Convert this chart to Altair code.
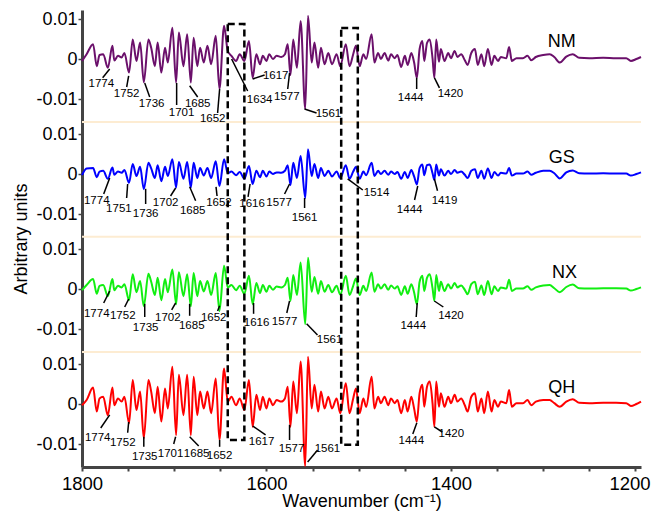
import altair as alt
import pandas as pd

# ---------------- data (values in units of 1e-4) ----------------
wavenumber = [
    1800, 1795, 1788, 1784, 1781, 1777, 1772, 1767, 1765, 1761,
    1757, 1754, 1749, 1745, 1741, 1737, 1733, 1728, 1725, 1721,
    1718, 1714, 1710, 1707, 1702, 1698, 1695, 1690, 1686, 1682,
    1679, 1675, 1672, 1668, 1664, 1660, 1655, 1651, 1646, 1642,
    1638, 1633, 1629, 1624, 1619, 1615, 1611, 1607, 1604, 1600,
    1597, 1593, 1589, 1584, 1580, 1577, 1574, 1571, 1567, 1563,
    1558, 1555, 1551, 1548, 1544, 1541, 1537, 1533, 1529, 1524,
    1520, 1514, 1510, 1506, 1503, 1499, 1495, 1492, 1486, 1483,
    1479, 1476, 1472, 1468, 1465, 1461, 1458, 1454, 1450, 1447,
    1443, 1440, 1437, 1434, 1431, 1429, 1426, 1423, 1420, 1418,
    1416, 1413, 1411, 1407, 1403, 1400, 1396, 1393, 1389, 1385,
    1382, 1378, 1374, 1371, 1367, 1364, 1360, 1356, 1353, 1349,
    1346, 1340, 1337, 1334, 1329, 1322, 1317, 1313, 1308, 1300,
    1293, 1288, 1282, 1275, 1268, 1261, 1250, 1235, 1221, 1210,
    1205, 1199, 1194,
]
nm = [
    -5, 12, 37, -18, 10, 12, -22, 33, -4, 8,
    4, 15, -34, 49, -5, 41, -58, 49, 28, -18,
    41, -34, 28, -9, 78, -59, 66, -18, 62, -59,
    53, -18, 28, -9, 33, -13, 58, -75, 83, 20,
    8, -5, 12, -5, 45, -47, 12, -13, 8, -5,
    12, 0, 8, 5, 12, 37, -40, 49, -22, 95,
    -125, 108, -9, 41, -22, 28, -13, 15, -13, 12,
    -18, 37, -18, 12, 33, -18, 12, 0, 62, -9,
    15, 0, 15, -4, 12, 2, 10, -20, 8, -15,
    15, -8, -47, 25, 45, -5, 40, 49, 2, -47,
    49, -7, 25, -5, 15, 2, 20, 5, 12, -3,
    -15, 15, 25, -15, 12, -18, 25, -15, 8, -5,
    5, 2, 30, -5, 2, 2, 8, -3, 5, 10,
    12, 5, -9, 6, 12, 3, 2, 3, 2, 2,
    -5, 0, 5,
]
gs = [
    -3, 14, 15, -8, 6, 8, -12, 16, -2, 6,
    3, 10, -22, 25, -5, 18, -38, 28, 14, -10,
    22, -18, 18, -5, 37, -34, 30, -12, 30, -34,
    28, -10, 15, -4, 15, -10, 32, -30, 37, 2,
    6, -3, 5, -12, 20, -25, 8, -8, 8, -6,
    6, 0, 4, 3, 8, 22, -28, 28, -10, 45,
    -60, 62, -5, 25, -10, 15, -5, 8, -6, 6,
    -10, 22, -12, 6, 18, -12, 6, -3, 28, -5,
    8, 0, 8, -2, 6, 0, 5, -12, 5, -10,
    10, -6, -26, 15, 24, -3, 22, 24, 2, -15,
    24, -4, 12, -4, 8, 0, 10, 3, 6, -2,
    -10, 8, 12, -10, 8, -12, 14, -10, 5, -4,
    3, 1, 15, -4, 1, 1, 6, -2, 3, 8,
    8, 2, -11, 4, 9, 2, 1, 2, 1, 1,
    -4, 0, 4,
]
nx = [
    -3, 10, 25, -12, 8, 10, -18, 25, -3, 8,
    4, 12, -28, 37, -8, 20, -43, 38, 18, -15,
    28, -28, 25, -8, 49, -38, 42, -18, 37, -43,
    40, -18, 20, -6, 20, -15, 40, -55, 58, 4,
    10, -3, 8, -12, 33, -38, 15, -10, 10, -7,
    8, -2, 6, 4, 10, 28, -30, 35, -15, 66,
    -88, 78, -7, 30, -12, 20, -7, 10, -8, 8,
    -14, 33, -15, 8, 26, -15, 8, -5, 41, -7,
    12, 1, 12, -2, 9, 1, 7, -15, 7, -12,
    12, -8, -38, 18, 33, -5, 28, 37, 2, -30,
    35, -5, 18, -5, 12, 1, 15, 4, 9, -2,
    -13, 12, 18, -13, 9, -15, 20, -13, 7, -5,
    4, 1, 23, -5, 1, 1, 7, -2, 4, 9,
    10, 2, -8, 5, 11, 2, 1, 2, 2, 1,
    -4, 0, 4,
]
qh = [
    -3, 10, 41, -19, 14, 18, -28, 41, -3, 14,
    6, 18, -48, 60, -15, 31, -86, 60, 31, -23,
    43, -44, 39, -11, 93, -78, 73, -28, 73, -78,
    68, -28, 31, -11, 31, -23, 64, -90, 89, 6,
    18, -3, 14, -15, 60, -57, 23, -15, 18, -11,
    14, -3, 10, 6, 14, 43, -57, 56, -23, 106,
    -155, 118, -11, 48, -19, 31, -11, 18, -11, 14,
    -23, 52, -23, 14, 39, -23, 14, -7, 68, -11,
    18, 2, 18, -3, 14, 2, 10, -23, 10, -19,
    18, -11, -44, 27, 48, -7, 43, 56, 2, -57,
    56, -7, 27, -7, 18, 2, 23, 6, 14, -3,
    -19, 18, 27, -19, 14, -23, 31, -19, 10, -7,
    6, 2, 35, -7, 2, 2, 10, -3, 6, 10,
    10, 2, -7, 6, 12, 3, 2, 3, 3, 2,
    -5, 0, 6,
]
series = ["NM", "GS", "NX", "QH"]
colors = ["#6b106b", "#0000ff", "#11ee11", "#ff0000"]
stack_index = [3, 2, 1, 0]
panel_step = 0.02875

# peak labels: (text, label wn, label value, leader from wn, value, leader to wn, value)
nm_peaks = [
    ("1774", 1779, -62, 1770, -25, 1777.6, -47),
    ("1752", 1751.6, -87, 1749.4, -42, 1751.6, -70),
    ("1736", 1724.5, -112, 1732, -60, 1726.6, -95),
    ("1701", 1692, -135, 1697.4, -60, 1697.4, -115),
    ("1685", 1674.6, -112, 1683.3, -67, 1674.6, -95),
    ("1652", 1658.3, -150, 1650.8, -75, 1653, -135),
    ("1634", 1607.4, -102, 1637.8, 0, 1620.4, -80),
    ("1617", 1590, -42, 1615, -50, 1602, -40),
    ("1577", 1578, -95, 1575, -35, 1577, -75),
    ("1561", 1532.8, -137, 1558.7, -125, 1545.7, -135),
    ("1444", 1443.7, -97, 1437.2, -47, 1437.2, -75),
    ("1420", 1400.6, -87, 1417.9, -47, 1412.5, -72),
]
gs_peaks = [
    ("1774", 1784, -67, 1770, -10, 1776.5, -50),
    ("1751", 1760, -87, 1750.5, -25, 1751.6, -60),
    ("1736", 1731, -100, 1731, -37, 1731, -75),
    ("1702", 1709.3, -72, 1698.5, -35, 1704, -55),
    ("1685", 1680, -92, 1683.3, -32, 1676.8, -67),
    ("1652", 1651.5, -72, 1654.7, -32, 1653.6, -55),
    ("1616", 1615.6, -75, 1617.8, -25, 1620, -57),
    ("1577", 1586.4, -72, 1575, -25, 1580.4, -50),
    ("1561", 1558.7, -110, 1558.7, -60, 1558.7, -85),
    ("1514", 1480.6, -47, 1512, -12, 1495.6, -40),
    ("1444", 1444.8, -90, 1436, -30, 1439.5, -65),
    ("1419", 1407, -67, 1418, -12, 1414.6, -42),
]
nx_peaks = [
    ("1774", 1784, -62, 1770, -5, 1776.5, -35),
    ("1752", 1755.8, -67, 1749.4, -25, 1753.7, -45),
    ("1735", 1731, -97, 1732, -37, 1732, -70),
    ("1702", 1707, -72, 1698.5, -35, 1702.8, -52),
    ("1685", 1681, -92, 1683.3, -37, 1683.3, -67),
    ("1652", 1657.2, -72, 1650.8, -42, 1653, -55),
    ("1616", 1610.7, -85, 1614, -35, 1614, -62),
    ("1577", 1580.4, -82, 1575, -30, 1578, -60),
    ("1561", 1531.6, -127, 1556.5, -87, 1544.7, -115),
    ("1444", 1440.9, -92, 1436.6, -35, 1437.7, -70),
    ("1420", 1400, -67, 1418, -30, 1408.3, -45),
]
qh_peaks = [
    ("1774", 1783, -85, 1770, -27, 1779.7, -60),
    ("1752", 1755.8, -97, 1749.4, -45, 1750.5, -72),
    ("1735", 1732, -132, 1733, -82, 1733, -107),
    ("1701", 1704, -125, 1698.5, -82, 1700.6, -100),
    ("1685", 1675.7, -125, 1683.3, -82, 1673.5, -105),
    ("1652", 1650.8, -130, 1650.8, -90, 1650.8, -107),
    ("1617", 1605.3, -95, 1615, -55, 1601, -77),
    ("1577", 1572.8, -112, 1575, -52, 1575, -90),
    ("1561", 1533.9, -112, 1555.4, -145, 1544.6, -115),
    ("1444", 1443, -92, 1437, -47, 1441.4, -75),
    ("1420", 1399.6, -75, 1418, -57, 1409.4, -70),
]
name_wn = [1280, 1280, 1277, 1280]
name_val = [42, 40, 40, 40]

box_left = [1642, 1519]
box_right = [1624, 1501]
box_top = [0.0950, 0.0940]
box_bottom = [-0.0090, -0.0102]

separator_y = [0.0705, 0.0418, 0.0130]

y_ticks = [k * panel_step + t for k in range(4) for t in (-0.01, 0.0, 0.01)]
x_ticks = list(range(1200, 1801, 50))

# ---------------- tables ----------------
rows = []
for name, vals, k in zip(series, [nm, gs, nx, qh], stack_index):
    assert len(vals) == len(wavenumber)
    for w, v in zip(wavenumber, vals):
        rows.append({"series": name, "wn": w, "y": v * 1e-4 + k * panel_step})
spec = pd.DataFrame(rows)

lab_rows, lead_rows = [], []
for peaks, k in zip([nm_peaks, gs_peaks, nx_peaks, qh_peaks], stack_index):
    off = k * panel_step
    for t, lx, ly, x1, y1, x2, y2 in peaks:
        lab_rows.append({"text": t, "wn": lx, "y": ly * 1e-4 + off})
        lead_rows.append({"wn": x1, "y": y1 * 1e-4 + off, "wn2": x2, "y2": y2 * 1e-4 + off})
labels = pd.DataFrame(lab_rows)
leaders = pd.DataFrame(lead_rows)
names = pd.DataFrame({
    "text": series, "wn": name_wn,
    "y": [v * 1e-4 + k * panel_step for v, k in zip(name_val, stack_index)],
})
boxes = pd.DataFrame({"wn": box_left, "wn2": box_right, "y": box_top, "y2": box_bottom})
seps = pd.DataFrame({"y": separator_y})

FONT = "Liberation Sans"
W, H = 559, 457
xscale = alt.Scale(domain=[1194, 1800], reverse=True, nice=False, zero=False)
yscale = alt.Scale(domain=[-0.01575, 0.0985], nice=False, zero=False)

ylab = ("abs(datum.value - round(datum.value / 0.02875) * 0.02875) < 0.002 ? '0' : "
        "((datum.value - round(datum.value / 0.02875) * 0.02875) > 0 ? '0.01' : '-0.01')")

x_axis = alt.Axis(
    values=x_ticks, labelExpr="datum.value % 200 === 0 ? format(datum.value, 'd') : ''",
    title="Wavenumber (cm\u207b\u00b9)", labelFontSize=18.5, titleFontSize=18,
    labelFont=FONT, titleFont=FONT, titleFontWeight="normal", labelColor="#000",
    titleColor="#000", domainColor="#444", domainWidth=3, tickColor="#444",
    tickWidth=2, tickSize=4, labelPadding=3, grid=False, labelFlush=False,
    titleY=39, titleBaseline="alphabetic",
    labelOffset={"condition": {"test": "datum.value === 1200", "value": -6}, "value": 0})
y_axis = alt.Axis(
    values=y_ticks, labelExpr=ylab, title="Arbitrary units", labelFontSize=18,
    titleFontSize=18, labelFont=FONT, titleFont=FONT, titleFontWeight="normal",
    labelColor="#000", titleColor="#000", domainColor="#444", domainWidth=3,
    tickColor="#444", tickWidth=1.5, tickSize=4, labelPadding=1, titlePadding=5,
    grid=False, labelFlush=False)

X = alt.X("wn:Q", scale=xscale, axis=x_axis)
Y = alt.Y("y:Q", scale=yscale, axis=y_axis)

sep_layer = alt.Chart(seps).mark_rule(color="#fdecd2", strokeWidth=2).encode(
    y=Y, x=alt.value(0), x2=alt.value(W))

lines = alt.Chart(spec).mark_line(strokeWidth=2, interpolate="monotone").encode(
    x=X, y=Y,
    color=alt.Color("series:N", scale=alt.Scale(domain=series, range=colors), legend=None),
    detail="series:N", order="wn:Q")

lead_layer = alt.Chart(leaders).mark_rule(color="black", strokeWidth=1.5).encode(
    x=X, x2="wn2:Q", y=Y, y2="y2:Q")

lab_layer = alt.Chart(labels).mark_text(font=FONT, fontSize=11.5, color="black",
                                        align="center", baseline="middle").encode(
    x=X, y=Y, text="text:N")

name_layer = alt.Chart(names).mark_text(font=FONT, fontSize=18, color="black",
                                        align="center", baseline="middle").encode(
    x=X, y=Y, text="text:N")

box_layer = alt.Chart(boxes).mark_rect(fill=None, fillOpacity=0, stroke="black",
                                       strokeWidth=2.5, strokeDash=[7, 4]).encode(
    x=X, x2="wn2:Q", y=Y, y2="y2:Q")

chart = alt.layer(lines, sep_layer, lead_layer, lab_layer, name_layer, box_layer).properties(
    width=W, height=H,
    autosize=alt.AutoSizeParams(type="none"),
    padding={"left": 74, "top": 2, "right": 10, "bottom": 44},
    background="white",
).configure_view(stroke=None)

chart.save("out.html", embed_options={"renderer": "svg", "actions": False})
